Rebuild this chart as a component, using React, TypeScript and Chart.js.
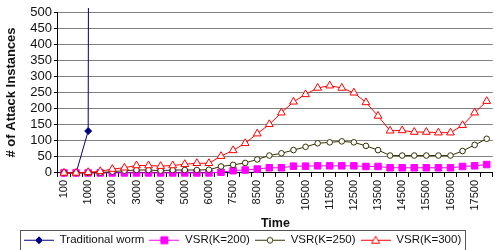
import React, { useEffect, useRef } from 'react';
import { Chart, registerables } from 'chart.js';

Chart.register(...registerables);

const timeLabels = [
  '100', '500', '1000', '1500', '2000', '2500', '3000', '3500', '4000', '4500',
  '5000', '5500', '6000', '7000', '7500', '8000', '8500', '9000', '9500', '10000',
  '10500', '11000', '11500', '12000', '12500', '13000', '13500', '14000', '14500', '15000',
  '15500', '16000', '16500', '17000', '17500', '18000',
];

const traditionalWorm = [
  0, 0, 130, 20000, null, null, null, null, null, null,
  null, null, null, null, null, null, null, null, null, null,
  null, null, null, null, null, null, null, null, null, null,
  null, null, null, null, null, null,
];

const vsrK200 = [
  0, 0, 0, 0, 0, 0, 0, 0, 0, 0,
  0, 0, 0, 2, 7, 9, 12, 16, 16, 21,
  21, 22, 22, 22, 22, 20, 20, 16, 16, 16,
  16, 16, 16, 20, 22, 26,
];

const vsrK250 = [
  0, 0, 0, 1, 4, 7, 9, 9, 7, 9,
  9, 9, 10, 20, 25, 31, 42, 54, 61, 71,
  81, 92, 95, 98, 95, 84, 71, 54, 54, 54,
  54, 54, 54, 68, 87, 106,
];

const vsrK300 = [
  0, 0, 2, 5, 12, 16, 23, 23, 21, 23,
  27, 30, 30, 52, 70, 92, 122, 151, 187, 221,
  244, 264, 271, 264, 249, 219, 177, 131, 132, 127,
  127, 125, 125, 148, 187, 223,
];

const yTicks = { min: 0, max: 500, step: 50 };

const FONT = "'Liberation Sans', Arial, sans-serif";

type Marker = 'diamond' | 'square' | 'circle' | 'triangle';

function makeLegendIcon(color: string, marker: Marker, fill: string) {
  const c = document.createElement('canvas');
  c.width = 30;
  c.height = 11;
  const ctx = c.getContext('2d')!;
  ctx.strokeStyle = color;
  ctx.lineWidth = 1;
  ctx.beginPath();
  ctx.moveTo(0, 5.5);
  ctx.lineTo(30, 5.5);
  ctx.stroke();
  const cx = 15;
  const cy = 5.5;
  ctx.fillStyle = fill;
  ctx.beginPath();
  if (marker === 'diamond') {
    ctx.moveTo(cx, cy - 3.5);
    ctx.lineTo(cx + 3.5, cy);
    ctx.lineTo(cx, cy + 3.5);
    ctx.lineTo(cx - 3.5, cy);
    ctx.closePath();
  } else if (marker === 'square') {
    ctx.rect(cx - 3.5, cy - 3.5, 7, 7);
  } else if (marker === 'circle') {
    ctx.arc(cx, cy, 2.8, 0, Math.PI * 2);
  } else {
    ctx.moveTo(cx, cy - 4);
    ctx.lineTo(cx + 4, cy + 3);
    ctx.lineTo(cx - 4, cy + 3);
    ctx.closePath();
  }
  ctx.fill();
  ctx.stroke();
  return c;
}

const legendFrame = {
  id: 'legendFrame',
  afterLayout(chart: any) {
    const lg = chart.legend;
    if (!lg || !lg.lineWidths) return;
    const pad = lg.options.labels.padding;
    const x0 = (lg.left + pad + lg.right - lg.lineWidths[0]) / 2;
    const shift = 24 - x0;
    lg.left += shift;
    lg.right += shift;
    const dy = 229.5 - lg.top;
    lg.top += dy;
    lg.bottom += dy;
  },
  afterDraw(chart: any) {
    const lg = chart.legend;
    if (!lg || !lg.legendHitBoxes || !lg.legendHitBoxes.length) return;
    const hb = lg.legendHitBoxes;
    const last = hb[hb.length - 1];
    const l = Math.round(hb[0].left - 4) + 0.5;
    const r = Math.round(last.left + last.width + 4) + 0.5;
    const t = Math.round(lg.top) + 0.5;
    const ctx = chart.ctx;
    ctx.save();
    ctx.strokeStyle = '#555';
    ctx.lineWidth = 1;
    ctx.strokeRect(l, t, r - l, 40);
    ctx.restore();
  },
};

export default function App() {
  const ref = useRef<HTMLCanvasElement>(null);

  useEffect(() => {
    if (!ref.current) return;
    const clip = { left: 8, top: 4, right: 8, bottom: 8 };
    const icons = [
      makeLegendIcon('#000080', 'diamond', '#000080'),
      makeLegendIcon('#FF00FF', 'square', '#FF00FF'),
      makeLegendIcon('#333300', 'circle', '#ffffff'),
      makeLegendIcon('#FF0000', 'triangle', '#ffffff'),
    ];
    const chart = new Chart(ref.current, {
      type: 'line',
      data: {
        labels: timeLabels,
        datasets: [
          {
            label: 'Traditional worm',
            data: traditionalWorm,
            borderColor: '#000080',
            backgroundColor: '#000080',
            pointStyle: 'rectRot',
            pointRadius: 3.5,
            pointBorderWidth: 1,
            borderWidth: 1,
            tension: 0,
            clip,
            order: 3,
          },
          {
            label: 'VSR(K=200)',
            data: vsrK200,
            borderColor: '#FF00FF',
            backgroundColor: '#FF00FF',
            pointStyle: 'rect',
            pointRadius: 4.6,
            pointBorderWidth: 1,
            borderWidth: 1,
            tension: 0,
            clip,
            order: 2,
          },
          {
            label: 'VSR(K=250)',
            data: vsrK250,
            borderColor: '#333300',
            backgroundColor: '#ffffff',
            pointStyle: 'circle',
            pointRadius: 2.8,
            pointBorderWidth: 1,
            borderWidth: 1,
            tension: 0,
            clip,
            order: 1,
          },
          {
            label: 'VSR(K=300)',
            data: vsrK300,
            borderColor: '#FF0000',
            backgroundColor: '#ffffff',
            pointStyle: 'triangle',
            pointRadius: 4.5,
            pointBorderWidth: 1,
            borderWidth: 1,
            tension: 0,
            clip,
            order: 0,
          },
        ],
      },
      options: {
        animation: false,
        responsive: true,
        maintainAspectRatio: false,
        layout: { padding: { top: 12, left: 0, right: 0, bottom: -10 } },
        scales: {
          x: {
            type: 'category',
            offset: true,
            border: { display: true, color: '#000', width: 1 },
            grid: { drawOnChartArea: false, offset: true, tickLength: 4, color: '#000' },
            ticks: {
              autoSkip: false,
              minRotation: 90,
              maxRotation: 90,
              padding: 3,
              color: '#111',
              font: { family: FONT, size: 11 },
              callback: (_v: any, i: number) => (i % 2 === 0 ? timeLabels[i] : ''),
            },
            title: {
              display: true,
              text: 'Time',
              color: '#111',
              font: { family: FONT, size: 12.5, weight: 'bold' },
              padding: { top: 3, bottom: 2 },
            },
          },
          y: {
            min: yTicks.min,
            max: yTicks.max,
            border: { display: true, color: '#000', width: 1 },
            grid: { color: '#808080', tickColor: '#000', tickLength: 4 },
            ticks: {
              stepSize: yTicks.step,
              autoSkip: false,
              padding: 2,
              color: '#111',
              font: { family: FONT, size: 13, lineHeight: 1 },
            },
            title: {
              display: true,
              text: '# of Attack Instances',
              color: '#111',
              font: { family: FONT, size: 13, weight: 'bold' },
              padding: { top: 4, bottom: 8.7 },
            },
          },
        },
        plugins: {
          tooltip: { enabled: false },
          legend: {
            display: true,
            position: 'bottom',
            labels: {
              usePointStyle: true,
              pointStyleWidth: 30,
              padding: 5,
              color: '#111',
              font: { family: FONT, size: 11.5 },
              generateLabels: (ch: any) =>
                ch.data.datasets.map((ds: any, i: number) => ({
                  text: ds.label,
                  pointStyle: icons[i],
                  fillStyle: ds.borderColor,
                  strokeStyle: ds.borderColor,
                  lineWidth: 0,
                  hidden: false,
                  datasetIndex: i,
                  fontColor: '#111',
                })),
            },
          },
        },
      } as any,
      plugins: [legendFrame],
    });
    return () => chart.destroy();
  }, []);

  return (
    <div
      style={{
        position: 'fixed',
        left: 0,
        top: 0,
        width: 495,
        height: 250,
        overflow: 'hidden',
        background: '#fff',
      }}
    >
      <div style={{ position: 'relative', width: 503, height: 250 }}>
        <canvas ref={ref} />
      </div>
    </div>
  );
}
